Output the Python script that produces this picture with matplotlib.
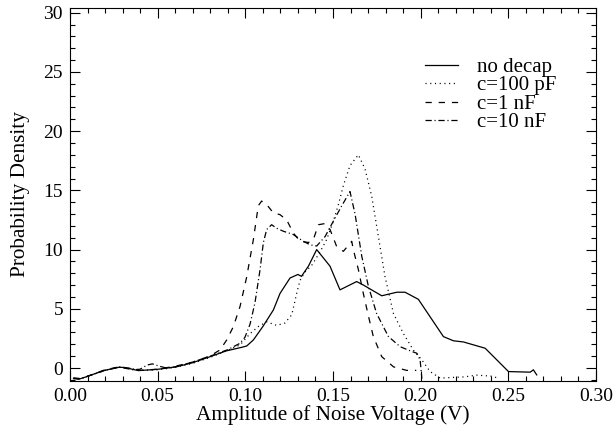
import numpy as np
import matplotlib
matplotlib.use("Agg")
import matplotlib.pyplot as plt
from matplotlib.ticker import MultipleLocator, FormatStrFormatter

# curves: (amplitude V, probability density)
nodecap_x = [0.002, 0.005, 0.0095, 0.019, 0.028, 0.031, 0.039, 0.050, 0.061, 0.070,
             0.080, 0.089, 0.098, 0.1008, 0.1046, 0.110, 0.116, 0.1198, 0.1255, 0.130,
             0.132, 0.136, 0.1407, 0.1483, 0.154, 0.1635, 0.1674, 0.1778, 0.1864, 0.1911,
             0.1987, 0.213, 0.2187, 0.2244, 0.2368, 0.2501, 0.2625, 0.2643, 0.2662]
nodecap_y = [-0.9, -0.95, -0.73, -0.22, 0.06, 0.05, -0.22, -0.11, 0.11, 0.45,
             0.96, 1.44, 1.75, 1.86, 2.37, 3.5, 4.9, 6.3, 7.6, 7.9,
             7.74, 8.6, 10.0, 8.6, 6.6, 7.3, 7.0, 6.1, 6.4, 6.4,
             5.8, 2.65, 2.3, 2.2, 1.67, -0.3, -0.35, -0.15, -0.58]

c100p_x = [0.002, 0.006, 0.01, 0.02, 0.028, 0.035, 0.04, 0.05, 0.06, 0.07,
           0.08, 0.09, 0.097, 0.1027, 0.1074, 0.1122, 0.1179, 0.1226, 0.1265, 0.1293,
           0.1312, 0.134, 0.138, 0.1426, 0.1464, 0.150, 0.1531, 0.1559, 0.1597, 0.1645,
           0.1683, 0.1721, 0.1759, 0.1797, 0.1845, 0.1902, 0.1959, 0.2007, 0.2054, 0.2111,
           0.218, 0.225, 0.232, 0.237, 0.241, 0.245]
c100p_y = [-0.85, -0.9, -0.7, -0.2, 0.08, -0.05, -0.2, -0.15, 0.05, 0.4,
           0.9, 1.5, 1.95, 2.9, 3.5, 3.9, 3.6, 3.8, 4.5, 6.3,
           7.4, 8.1, 8.7, 9.8, 10.85, 12.3, 13.8, 15.4, 17.1, 18.0,
           16.8, 14.5, 11.1, 7.7, 4.6, 2.9, 1.5, 0.68, -0.3, -0.85,
           -0.8, -0.75, -0.6, -0.65, -0.7, -0.9]

c1n_x = [0.002, 0.006, 0.01, 0.02, 0.028, 0.035, 0.04, 0.05, 0.06, 0.07,
         0.0799, 0.0856, 0.0894, 0.0932, 0.097, 0.1008, 0.1046, 0.1074, 0.1093, 0.1122,
         0.116, 0.1198, 0.1236, 0.1274, 0.1312, 0.136, 0.1388, 0.1417, 0.1455, 0.1483,
         0.152, 0.1559, 0.1607, 0.1616, 0.1645, 0.1673, 0.1702, 0.173, 0.1778, 0.1845,
         0.192, 0.1975]
c1n_y = [-0.85, -0.9, -0.7, -0.15, 0.1, -0.05, -0.2, -0.1, 0.15, 0.5,
         1.02, 1.53, 2.37, 3.5, 5.2, 7.7, 10.85, 13.7, 14.1, 13.8,
         13.1, 12.95, 12.5, 11.4, 10.7, 10.6, 10.85, 12.1, 12.2, 11.7,
         10.3, 9.85, 10.7, 10.0, 8.3, 6.3, 4.4, 2.66, 0.96, 0.1,
         -0.2, -0.2]

c10n_x = [0.002, 0.006, 0.01, 0.02, 0.028, 0.036, 0.040, 0.044, 0.047, 0.051,
          0.055, 0.06, 0.07, 0.08, 0.09, 0.097, 0.0998, 0.1027, 0.1055, 0.1084,
          0.1103, 0.1122, 0.115, 0.1179, 0.1217, 0.1274, 0.1331, 0.137, 0.1407, 0.1455,
          0.1502, 0.155, 0.1597, 0.1626, 0.1664, 0.1702, 0.1749, 0.1816, 0.1883, 0.1949,
          0.1978, 0.1997, 0.2007]
c10n_y = [-0.85, -0.9, -0.7, -0.2, 0.08, -0.15, -0.1, 0.25, 0.35, 0.15,
          0.0, 0.1, 0.5, 1.0, 1.55, 2.09, 2.6, 3.7, 5.5, 8.3,
          10.6, 11.7, 12.1, 11.8, 11.55, 11.27, 10.7, 10.4, 10.3, 11.1,
          12.4, 13.7, 14.9, 13.0, 9.45, 6.9, 4.6, 2.66, 1.8, 1.4,
          1.25, 0.68, -0.9]

labels = ["no decap", "c=100 pF", "c=1 nF", "c=10 nF"]

plt.rcParams['font.family'] = ['Liberation Serif', 'DejaVu Serif']
plt.rcParams['font.size'] = 14
plt.rcParams['lines.scale_dashes'] = False

fig = plt.figure(figsize=(6.16, 4.33), dpi=100)
ax = fig.add_axes([0.1136, 0.12, 0.8539, 0.8615])

lw = 0.9
ax.plot(nodecap_x, nodecap_y, color='black', lw=lw, label=labels[0])
ax.plot(c100p_x, c100p_y, color='black', lw=lw, linestyle=(0, (0.8, 2.6)), label=labels[1])
ax.plot(c1n_x, c1n_y, color='black', lw=lw, linestyle=(0, (4.5, 5.0)), label=labels[2])
ax.plot(c10n_x, c10n_y, color='black', lw=lw, linestyle=(0, (4.5, 2.0, 0.8, 2.0)), label=labels[3])

ax.set_xlim(0, 0.30)
ax.set_ylim(-1.1, 30.4)
ax.xaxis.set_major_locator(MultipleLocator(0.05))
ax.xaxis.set_minor_locator(MultipleLocator(0.01))
ax.xaxis.set_major_formatter(FormatStrFormatter('%.2f'))
ax.yaxis.set_major_locator(MultipleLocator(5))
ax.yaxis.set_minor_locator(MultipleLocator(1))
ax.tick_params(which='both', direction='in', top=True, right=True, width=0.8)
ax.tick_params(which='major', length=7.5, pad=5)
ax.tick_params(which='minor', length=3.5)
for s in ax.spines.values():
    s.set_linewidth(0.8)

ax.set_xlabel('Amplitude of Noise Voltage (V)', fontsize=15.3, labelpad=0)
ax.set_ylabel('Probability Density', fontsize=15.3, labelpad=10)

ax.legend(loc='upper left', bbox_to_anchor=(0.674, 0.868), frameon=False,
          handlelength=1.6, handletextpad=0.9, labelspacing=-0.05,
          borderpad=0, borderaxespad=0, fontsize=15)

fig.savefig('out.png', dpi=100)
